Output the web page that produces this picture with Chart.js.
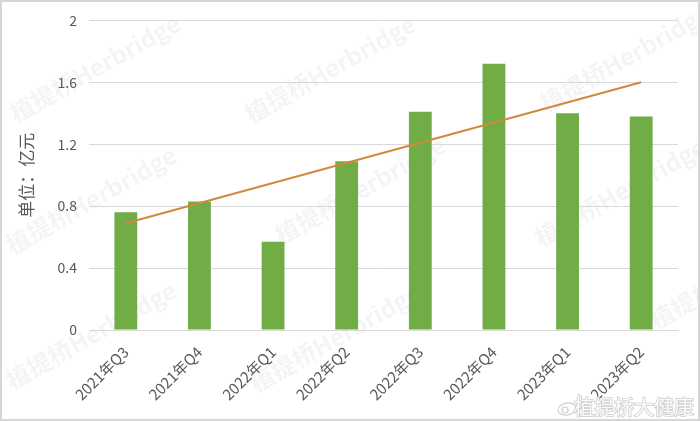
<!DOCTYPE html>
<html>
<head>
<meta charset="utf-8">
<script src="https://cdn.jsdelivr.net/npm/chart.js@4/dist/chart.umd.min.js"></script>
<style>
  html, body { margin: 0; padding: 0; background: #fff; }
  #wrap { width: 700px; height: 421px; position: relative; }
</style>
</head>
<body>
<div id="wrap"><canvas id="myChart"></canvas></div>
<script>
const quarters = ["2021年Q3","2021年Q4","2022年Q1","2022年Q2","2022年Q3","2022年Q4","2023年Q1","2023年Q2"];
const revenue = [0.76, 0.83, 0.57, 1.09, 1.41, 1.72, 1.40, 1.38];
// trend line ends
const trend = [0.69, null, null, null, null, null, null, 1.60];
const yTicks = [0, 0.4, 0.8, 1.2, 1.6, 2];
const yTitle = "单位：亿元";
const markText = "植提桥Herbridge";
const markSpots = [[95,68],[330,69],[625,58],[91,200],[360,190],[620,192],[91,335],[335,338],[735,275],[91,468],[330,468]];

const font = "'Noto Sans CJK SC', 'Noto Sans', sans-serif";
const txtColor = "#595959";

const background = {
    id: "background",
    beforeDraw(chart) {
        const c = chart.ctx;
        c.save();
        c.fillStyle = "#fff";
        c.fillRect(0, 0, chart.width, chart.height);
        // faint diagonal watermarks
        c.font = "bold 24px " + font;
        c.fillStyle = "rgba(0,0,0,0.045)";
        c.textAlign = "center";
        c.textBaseline = "middle";
        markSpots.forEach(p => {
            c.save();
            c.translate(p[0], p[1]);
            c.rotate(-29.5 * Math.PI / 180);
            c.fillText(markText, 0, 0);
            c.restore();
        });
        c.restore();
    },
    afterDraw(chart) {
        const c = chart.ctx;
        c.save();
        // weibo tag bottom right
        c.strokeStyle = "#cfcfcf";
        c.lineWidth = 1.2;
        c.beginPath();
        c.ellipse(567, 409, 9, 6, -0.2, 0, Math.PI * 2);
        c.stroke();
        c.beginPath();
        c.arc(565, 410, 3, 0, Math.PI * 2);
        c.stroke();
        c.beginPath();
        c.arc(577, 399, 5, -Math.PI / 2, 0.3);
        c.stroke();
        c.font = "20px " + font;
        c.textAlign = "right";
        c.textBaseline = "middle";
        c.lineWidth = 1.5;
        c.strokeStyle = "#cccccc";
        c.strokeText("植提桥大健康", 694, 407);
        c.fillStyle = "#fbfbfb";
        c.fillText("植提桥大健康", 694, 407);
        // frame
        c.strokeStyle = "#d6d6d6";
        c.lineWidth = 2;
        c.strokeRect(1, 1, chart.width - 2, chart.height - 2);
        c.restore();
    }
};

new Chart("myChart", {
    type: "bar",
    data: {
        labels: quarters,
        datasets: [
            {
                type: "line",
                data: trend,
                borderColor: "#D08A3C",
                borderWidth: 2,
                pointRadius: 0,
                spanGaps: true,
                fill: false,
                order: 0
            },
            {
                data: revenue,
                backgroundColor: "#70AD47",
                categoryPercentage: 1,
                barPercentage: 0.31,
                order: 1
            }
        ]
    },
    options: {
        responsive: true,
        maintainAspectRatio: false,
        animation: false,
        layout: { padding: { top: 15, right: 22, left: 8, bottom: 0 } },
        plugins: {
            legend: { display: false },
            tooltip: { enabled: false }
        },
        scales: {
            x: {
                grid: { display: false, drawTicks: false },
                border: { display: true, color: "#d9d9d9", width: 1 },
                ticks: {
                    color: txtColor,
                    font: { family: font, size: 15 },
                    minRotation: 45,
                    maxRotation: 45,
                    padding: 13
                },
                afterFit(s) { s.height = 91; }
            },
            y: {
                min: 0,
                max: 2,
                afterBuildTicks(s) { s.ticks = yTicks.map(v => ({ value: v })); },
                grid: { color: "#d9d9d9", lineWidth: 1, drawTicks: false },
                border: { display: false },
                ticks: {
                    color: txtColor,
                    font: { family: font, size: 14 },
                    padding: 12,
                    callback: v => String(v)
                },
                title: {
                    display: true,
                    text: yTitle,
                    color: txtColor,
                    font: { family: font, size: 17 },
                    padding: { top: 8, bottom: 0 }
                },
                afterFit(s) { s.width = 81; }
            }
        }
    },
    plugins: [background]
});
</script>
</body>
</html>
